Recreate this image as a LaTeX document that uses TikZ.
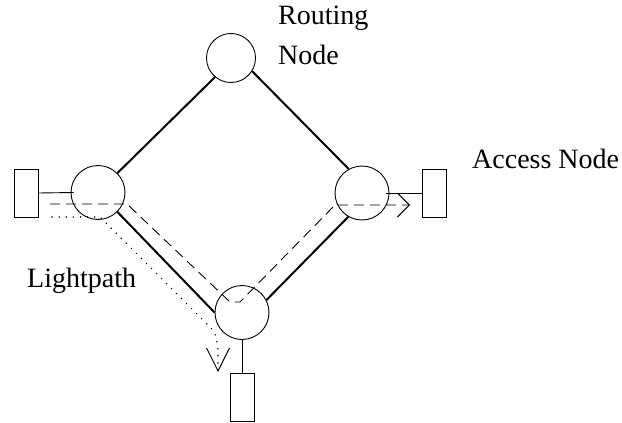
\documentclass[tikz,border=0pt]{standalone}
\usepackage{fontspec}
\setmainfont{Liberation Serif}
\usetikzlibrary{arrows.meta}
\begin{document}
\begin{tikzpicture}[x=1pt,y=-1pt,
  router/.style={draw,circle,inner sep=0pt,minimum size=54pt,line width=0.9pt},
  access/.style={draw,rectangle,inner sep=0pt,minimum width=24pt,minimum height=48pt,line width=0.9pt},
  trunk/.style={line width=2pt},
  tap/.style={line width=0.9pt},
  lightpath/.style={line width=0.9pt,dash pattern=on 10pt off 6pt},
  altpath/.style={line width=1.6pt,line cap=round,dash pattern=on 0.1pt off 7pt},
  lbl/.style={inner sep=0pt,font=\fontsize{28}{40}\selectfont}]
\useasboundingbox (0,0) rectangle (622,423);
% routing nodes
\node[router,minimum size=49pt] (T) at (231,58) {};
\node[router] (L) at (98,192.5) {};
\node[router] (R) at (362,193) {};
\node[router] (B) at (242,312.5) {};
% access nodes
\node[access] (LA) at (26,193) {};
\node[access] (RA) at (434,193) {};
\node[access] (BA) at (242,397) {};
% trunk links
\draw[trunk] (L.45) -- (T.230);
\draw[trunk] (T.-32) -- (R.119);
\draw[trunk] (L.-45) -- (B.180);
\draw[trunk] (B.27) -- (R.240);
% taps
\draw[tap] (LA.east) -- ([xshift=3pt]L.west);
\draw[tap] ([xshift=-3pt]R.east) -- (RA.west);
\draw[tap] (B.south) -- (BA.north);
% lightpath (dashed)
\coordinate (d0) at (50,204);
\coordinate (d1) at (127,204);
\coordinate (d2) at (230,302);
\coordinate (d3) at (240,302);
\coordinate (d4) at (335,205);
\coordinate (d5) at (410,205);
\draw[lightpath,-{Straight Barb[length=12pt,width=24pt]}] (d0) -- (d1) -- (d2) -- (d3) -- (d4) -- (d5);
% alternative path (dotted)
\coordinate (p0) at (52,217);
\coordinate (p1) at (100,217);
\coordinate (p2) at (205,322);
\coordinate (p3) at (218,350);
\coordinate (p4) at (218,372);
\draw[altpath,-{Straight Barb[length=23pt,width=23pt,line cap=butt,line width=0.9pt]}] (p0) -- (p1) -- (p2) .. controls (216,333) .. (p3) -- (p4);
% labels
\node[lbl,anchor=north west,align=left] (rn) at (278,6) {Routing\\Node};
\node[lbl,anchor=base west] (an) at (472,168) {Access Node};
\node[lbl,anchor=base west] (lp) at (27,287) {Lightpath};
\end{tikzpicture}
\end{document}
